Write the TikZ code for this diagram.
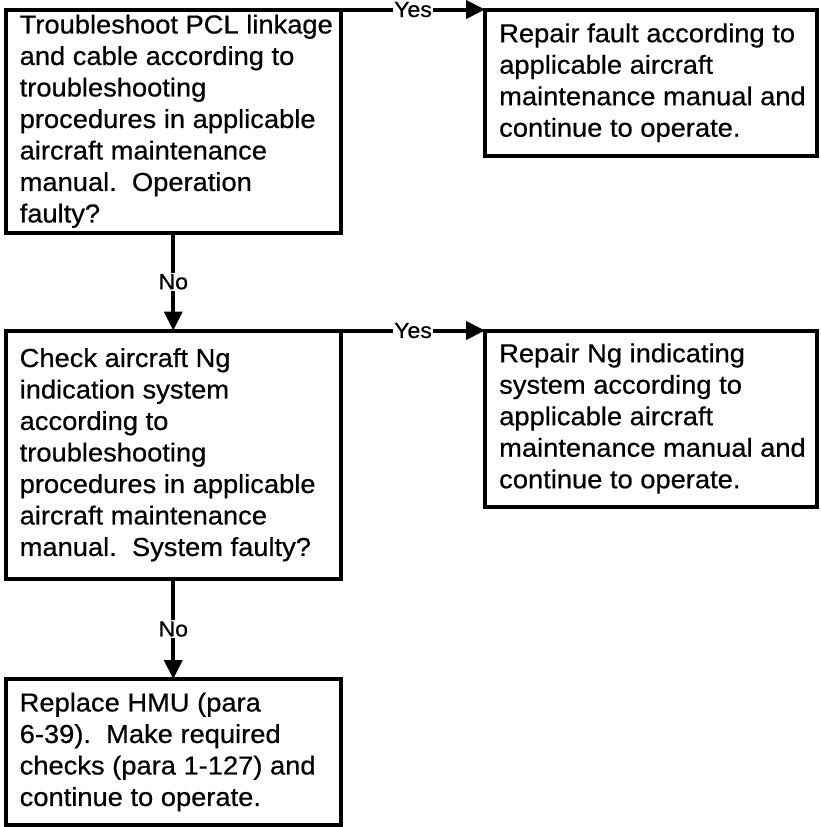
\documentclass[tikz,border=0pt]{standalone}
\usepackage{fontspec}
\setmainfont{Liberation Sans}[FakeStretch=1.05, FakeBold=0.6]
\usetikzlibrary{arrows.meta}
\begin{document}
\begin{tikzpicture}[x=1pt,y=1pt,
  stepbox/.style={draw, line width=4pt, outer sep=0pt, inner sep=0pt, anchor=north west},
  steptext/.style={anchor=west, align=left, inner sep=0pt, xshift=14pt,
    font=\fontsize{26}{31.5}\selectfont},
  flow/.style={line width=4pt, -{Triangle[length=19pt,width=18pt]}},
  tag/.style={fill=white, inner sep=1.5pt, font=\fontsize{22}{24}\selectfont}]
\useasboundingbox (0,0) rectangle (820,-827);

% left column: decisions and final action
\node[stepbox, minimum width=335.5pt, minimum height=223.5pt] (troubleshoot) at (5.5,-9.5) {};
\node[steptext] (troubleshoot-text) at (troubleshoot.west)
  {Troubleshoot PCL linkage\\ and cable according to\\ troubleshooting\\
   procedures in applicable\\ aircraft maintenance\\ manual.~~Operation\\ faulty?};

\node[stepbox, minimum width=335.5pt, minimum height=248.5pt] (check) at (5.5,-330.5) {};
\node[steptext] (check-text) at (check.west)
  {Check aircraft Ng\\ indication system\\ according to\\ troubleshooting\\
   procedures in applicable\\ aircraft maintenance\\ manual.~~System faulty?};

\node[stepbox, minimum width=335.5pt, minimum height=146pt] (replace) at (5.5,-679) {};
\node[steptext] (replace-text) at (replace.west)
  {Replace HMU (para\\ 6-39).~~Make required\\ checks (para 1-127) and\\ continue to operate.};

% right column: repair actions
\node[stepbox, minimum width=331.5pt, minimum height=146.5pt] (repairfault) at (485,-9.5) {};
\node[steptext] (repairfault-text) at (repairfault.west)
  {Repair fault according to\\ applicable aircraft\\ maintenance manual and\\ continue to operate.};

\node[stepbox, minimum width=331.5pt, minimum height=176pt] (repairng) at (485,-330.5) {};
\node[steptext] (repairng-text) at (repairng.west)
  {Repair Ng indicating\\ system according to\\ applicable aircraft\\ maintenance manual and\\ continue to operate.};

% connectors
\draw[flow] (troubleshoot.north east) -- node[tag] (yes1) {Yes} (repairfault.north west);
\draw[flow] (check.north east) -- node[tag] (yes2) {Yes} (repairng.north west);
\draw[flow] (troubleshoot.south) -- node[tag] (no1) {No} (check.north);
\draw[flow] (check.south) -- node[tag] (no2) {No} (replace.north);
\end{tikzpicture}
\end{document}
